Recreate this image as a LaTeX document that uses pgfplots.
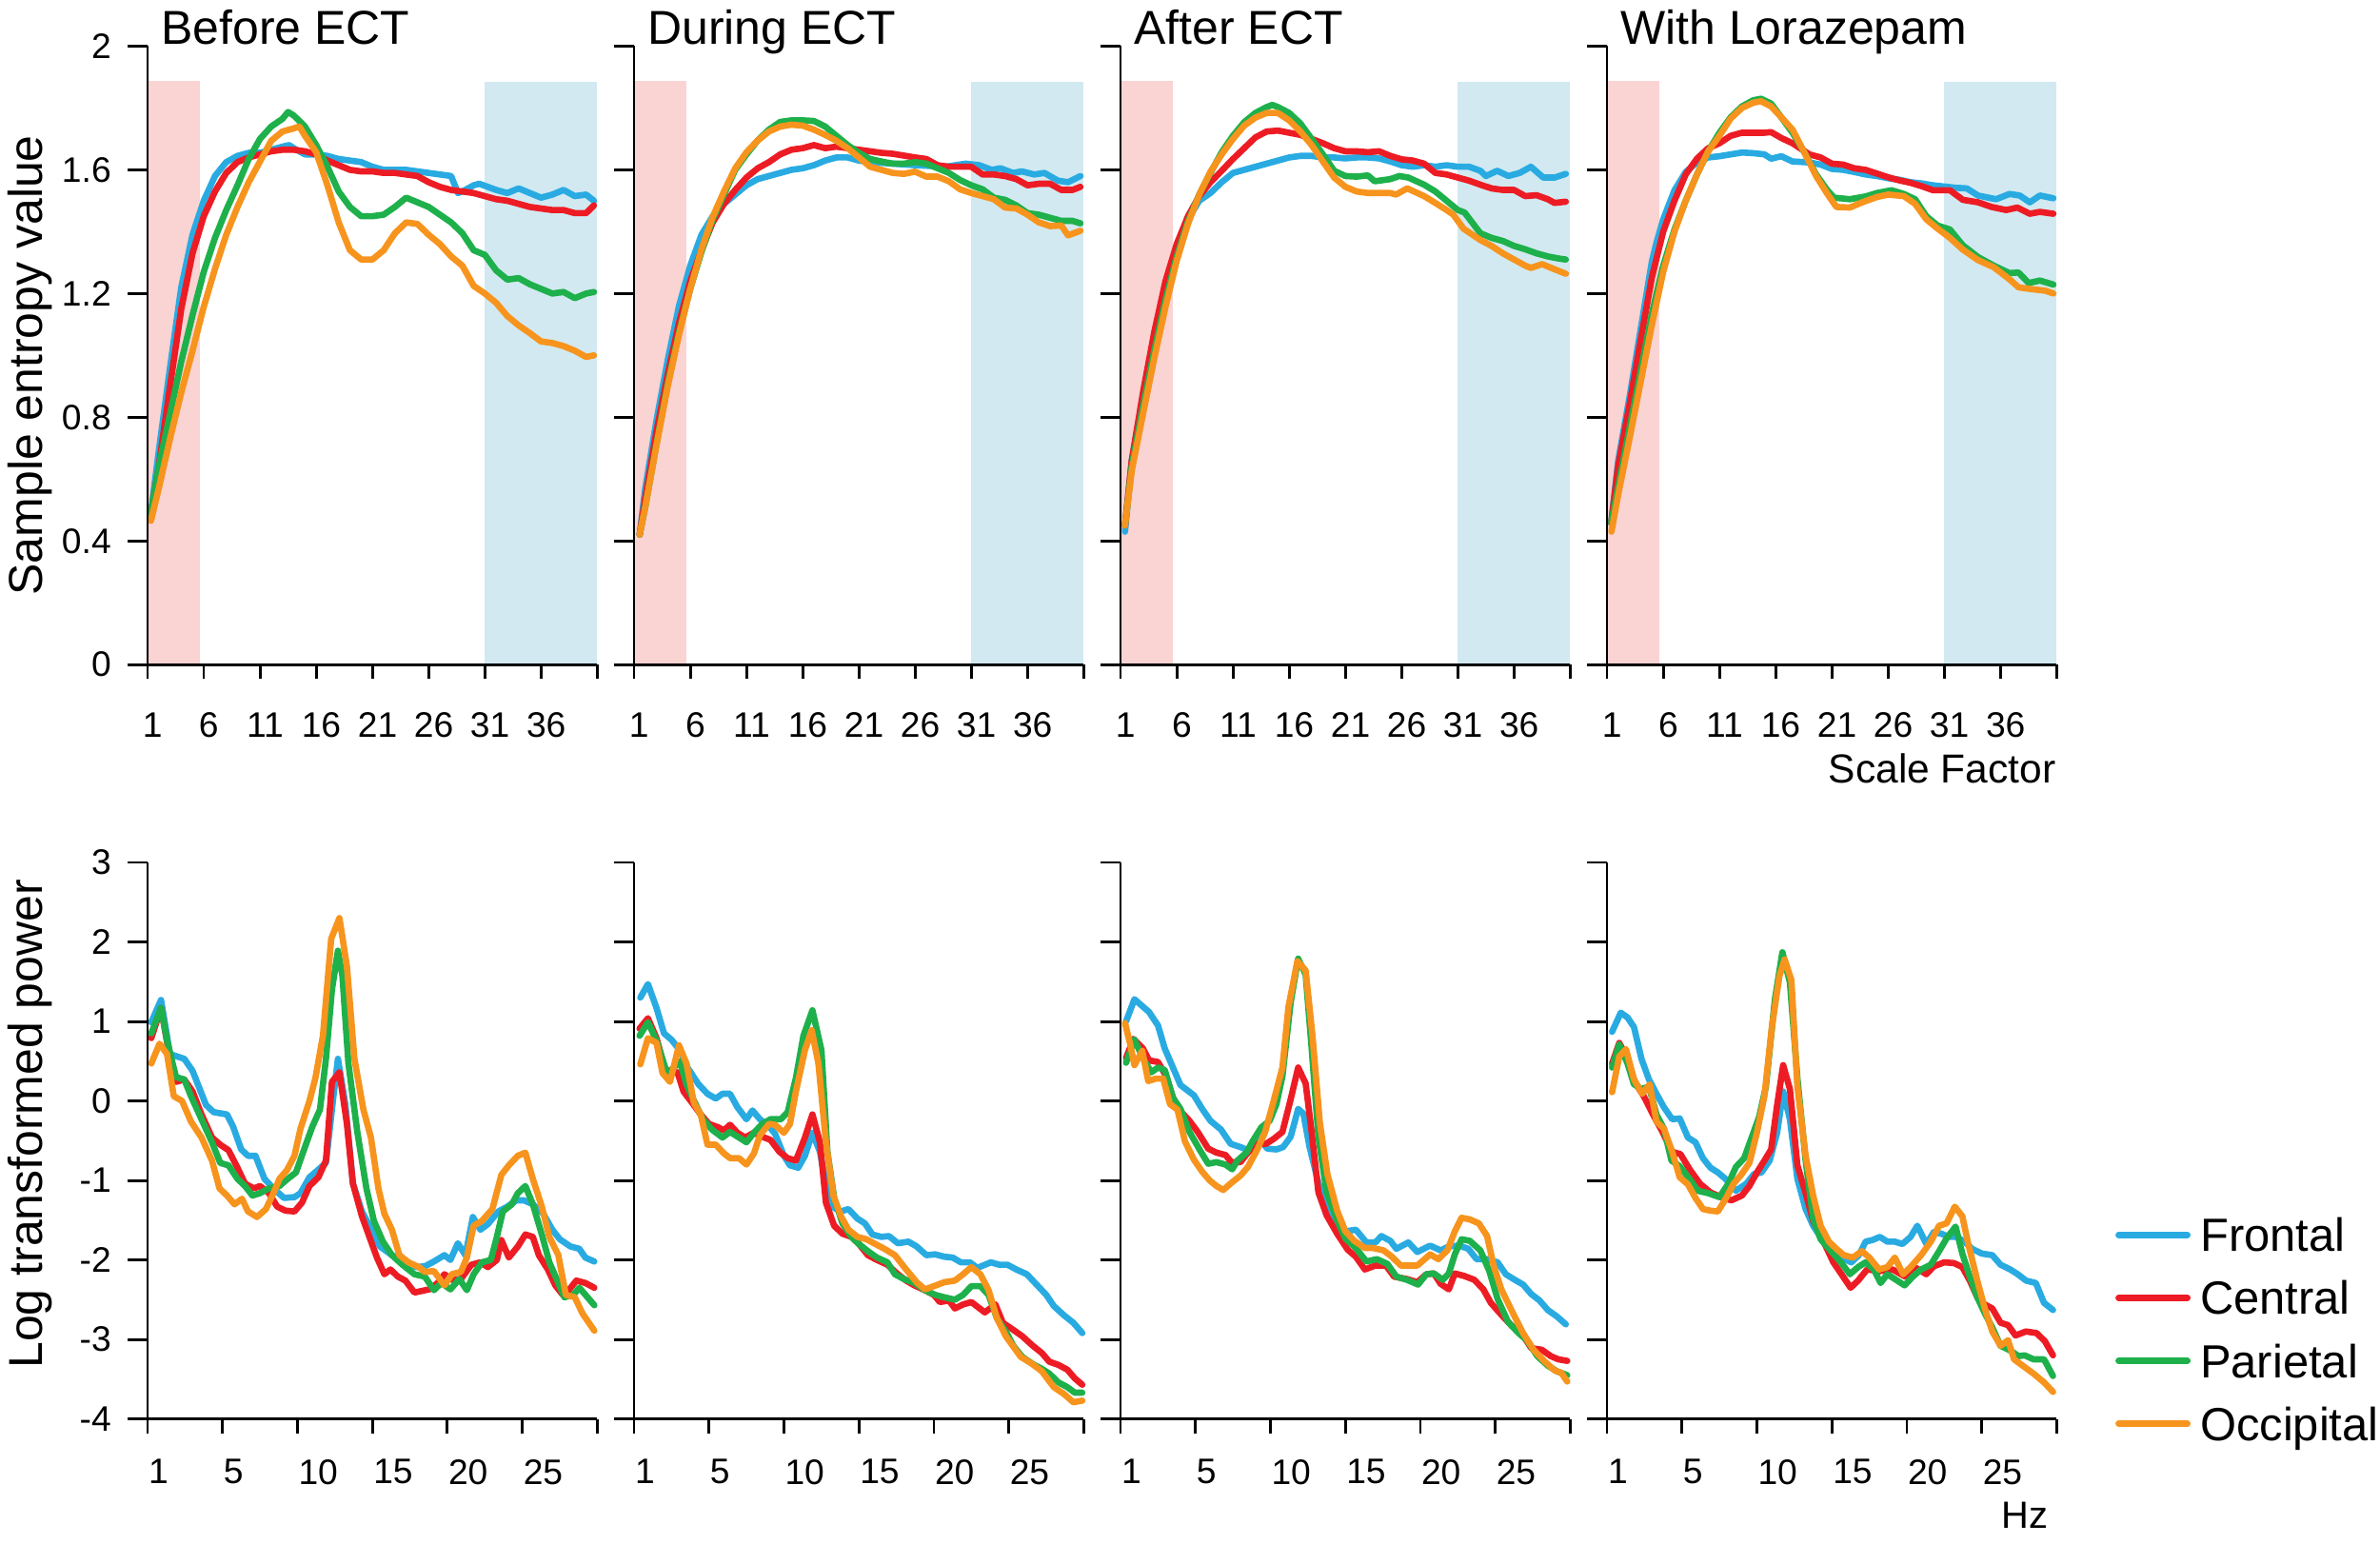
\documentclass[border=0pt]{standalone}
\usepackage{fontspec}
\setmainfont{Liberation Sans}
\usepackage{pgfplots}
\pgfplotsset{compat=1.18}

\definecolor{cF}{RGB}{41,171,226}
\definecolor{cC}{RGB}{237,28,36}
\definecolor{cP}{RGB}{30,176,75}
\definecolor{cO}{RGB}{247,148,29}
\definecolor{bandR}{RGB}{250,211,211}
\definecolor{bandB}{RGB}{210,233,241}

\pgfplotsset{
  eegbase/.style={scale only axis, width=88.9pt, clip=false, axis on top,
    axis lines*=left, axis line style={line width=0.55pt,-},
    tick align=outside, tick style={line width=0.55pt, black},
    major tick length=3.9pt,
    xtick style={/pgfplots/major tick length=2.85pt},
    tick label style={font=\fontsize{7}{8.4}\selectfont, inner sep=0pt},
    yticklabel style={anchor=east, xshift=-3.1pt},
    every axis plot/.append style={line width=1.25pt, line join=round, line cap=round}},
  toprow/.style={eegbase, height=122.25pt, xmin=1, xmax=41, ymin=0, ymax=2,
    xtick={1,6,...,41}, xticklabels={1,6,11,16,21,26,31,36,},
    xticklabel style={anchor=north, xshift=1pt, yshift=-5.35pt},
    ytick={0,0.4,0.8,1.2,1.6,2}},
  botrow/.style={eegbase, height=110pt, xmin=0, xmax=30, ymin=-4, ymax=3,
    xtick={0,5,...,30}, xticklabels={1,5,10,15,20,25,},
    xticklabel style={anchor=north west, yshift=-3.95pt},
    ytick={-4,-3,-2,-1,0,1,2,3}},
  nolab/.style={yticklabels={,,,,,,,,,}},
}
\tikzset{
  ttl/.style={anchor=base west, inner sep=0pt, font=\fontsize{9.4}{11}\selectfont, xshift=2.5pt, yshift=0.45pt},
  ylab/.style={xshift=-20.8pt, rotate=90, anchor=base, inner sep=0pt, font=\fontsize{9.4}{11}\selectfont},
}
\newcommand{\bands}{%
  \addplot[draw=none, fill=bandR, forget plot] coordinates {(1,1.887) (5.65,1.887)} \closedcycle;
  \addplot[draw=none, fill=bandB, forget plot] coordinates {(31,1.884) (41,1.884)} \closedcycle;
}

\begin{document}
\begin{tikzpicture}

% ---------------- top row: sample entropy ----------------
\begin{axis}[toprow, at={(0pt,0pt)}, anchor=south west,
  yticklabels={0,0.4,0.8,1.2,1.6,2}]
\bands
\addplot[cF] coordinates {(1.3,0.49) (2,0.69) (3,0.96) (4,1.22) (5,1.39) (6,1.50) (7,1.58) (8,1.625) (9,1.645) (10,1.655) (11,1.655) (12,1.665) (13,1.675) (13.6,1.68) (14,1.67) (15,1.65) (16,1.65) (17,1.645) (18,1.635) (19,1.63) (20,1.625) (21,1.61) (22,1.60) (23,1.60) (24,1.60) (25,1.595) (26,1.59) (27,1.585) (28,1.58) (28.6,1.525) (29,1.53) (30,1.55) (30.5,1.555) (32,1.535) (33,1.525) (34,1.54) (35,1.525) (36,1.51) (37,1.52) (38,1.535) (39,1.515) (40,1.52) (40.7,1.50)};
\addplot[cC] coordinates {(1.3,0.49) (2,0.64) (3,0.90) (4,1.15) (5,1.33) (6,1.45) (7,1.53) (8,1.59) (9,1.625) (10,1.64) (11,1.65) (12,1.66) (13,1.665) (14,1.665) (15,1.66) (16,1.65) (17,1.63) (18,1.615) (19,1.60) (20,1.595) (21,1.595) (22,1.59) (23,1.59) (24,1.585) (25,1.58) (26,1.56) (27,1.545) (28,1.535) (29,1.53) (30,1.525) (31,1.515) (32,1.505) (33,1.50) (34,1.49) (35,1.48) (36,1.475) (37,1.47) (38,1.47) (39,1.46) (40,1.46) (40.7,1.485)};
\addplot[cP] coordinates {(1.3,0.49) (2,0.64) (3,0.81) (4,0.98) (5,1.13) (6,1.27) (7,1.38) (8,1.47) (9,1.55) (10,1.635) (11,1.70) (12,1.74) (13,1.765) (13.5,1.787) (14,1.776) (15,1.74) (16,1.68) (17,1.61) (18,1.53) (19,1.48) (20,1.45) (21,1.45) (22,1.455) (23,1.48) (24,1.51) (25,1.495) (26,1.48) (27,1.455) (28,1.43) (29,1.395) (30,1.34) (31,1.325) (32,1.275) (33,1.245) (34,1.25) (35,1.23) (36,1.215) (37,1.20) (38,1.205) (39,1.185) (40,1.20) (40.7,1.205)};
\addplot[cO] coordinates {(1.3,0.465) (2,0.57) (3,0.73) (4,0.88) (5,1.015) (6,1.157) (7,1.28) (8,1.39) (9,1.48) (10,1.56) (11,1.627) (12,1.694) (13,1.724) (14,1.734) (14.5,1.74) (15,1.71) (16,1.657) (17,1.55) (18,1.43) (19,1.34) (20,1.31) (21,1.31) (22,1.34) (23,1.395) (24,1.43) (25,1.425) (26,1.39) (27,1.36) (28,1.32) (29,1.29) (30,1.225) (31,1.20) (32,1.17) (33,1.127) (34,1.097) (35,1.072) (36,1.045) (37,1.04) (38,1.03) (39,1.015) (40,0.995) (40.7,1.0)};
\node[ttl] at (rel axis cs:0,1) {Before ECT};
\node[ylab] at (rel axis cs:0,0.484) {Sample entropy value};
\end{axis}

\begin{axis}[toprow, nolab, at={(96.15pt,0pt)}, anchor=south west]
\bands
\addplot[cF] coordinates {(1.5,0.42) (2,0.57) (3,0.79) (4,0.985) (5,1.16) (6,1.29) (7,1.39) (8,1.45) (9,1.49) (10,1.52) (11,1.55) (12,1.57) (13,1.58) (14,1.59) (15,1.60) (16,1.605) (17,1.615) (18,1.63) (19,1.64) (20,1.64) (21,1.63) (22,1.625) (24,1.62) (26,1.615) (28.7,1.61) (30.5,1.62) (31.7,1.615) (32.8,1.60) (33.6,1.605) (34.7,1.59) (35.5,1.595) (36.6,1.585) (37.5,1.59) (38.7,1.565) (39.6,1.56) (40.7,1.58)};
\addplot[cC] coordinates {(1.5,0.42) (2,0.54) (3,0.755) (4,0.94) (5,1.105) (6,1.24) (7,1.34) (8,1.43) (9,1.49) (10,1.535) (11,1.575) (12,1.605) (13,1.625) (14,1.65) (15,1.665) (16,1.67) (17,1.68) (18,1.67) (19,1.675) (20,1.67) (21,1.665) (22,1.66) (23,1.655) (24,1.652) (25,1.646) (26,1.64) (27,1.635) (28,1.615) (29,1.61) (30,1.61) (31,1.61) (32,1.585) (33,1.585) (34,1.58) (35,1.57) (36,1.55) (37,1.555) (38,1.555) (39,1.535) (40,1.535) (40.7,1.545)};
\addplot[cP] coordinates {(1.5,0.42) (2,0.51) (3,0.715) (4,0.91) (5,1.075) (6,1.215) (7,1.335) (8,1.44) (9,1.52) (10,1.60) (11,1.65) (12,1.695) (13,1.73) (14,1.755) (15,1.76) (16,1.76) (17,1.758) (18,1.74) (19,1.71) (20,1.68) (21,1.655) (22,1.635) (23,1.627) (24,1.62) (25,1.62) (26,1.625) (27,1.62) (28,1.605) (29,1.59) (30,1.567) (31,1.55) (32,1.537) (33,1.51) (34,1.503) (35,1.485) (36,1.46) (37,1.455) (38,1.445) (39,1.435) (40,1.435) (40.7,1.427)};
\addplot[cO] coordinates {(1.5,0.42) (2,0.51) (3,0.71) (4,0.90) (5,1.067) (6,1.215) (7,1.343) (8,1.448) (9,1.53) (10,1.605) (11,1.657) (12,1.695) (13,1.724) (14,1.74) (15,1.746) (16,1.743) (17,1.73) (18,1.713) (19,1.694) (20,1.67) (21,1.64) (22,1.61) (23,1.60) (24,1.59) (25,1.587) (26,1.594) (27,1.578) (28,1.578) (29,1.563) (30,1.537) (31,1.525) (32,1.515) (33,1.505) (34,1.478) (35,1.475) (36,1.455) (37,1.43) (38,1.418) (39,1.42) (39.6,1.388) (40.7,1.403)};
\node[ttl] at (rel axis cs:0,1) {During ECT};
\end{axis}

\begin{axis}[toprow, nolab, at={(192.3pt,0pt)}, anchor=south west]
\bands
\addplot[cF] coordinates {(1.4,0.43) (2,0.66) (3,0.865) (4,1.06) (5,1.216) (6,1.343) (7,1.44) (8,1.50) (9,1.525) (10,1.56) (11,1.59) (12,1.60) (13,1.61) (14,1.62) (15,1.63) (16,1.64) (17,1.645) (18,1.645) (19,1.64) (20,1.64) (21,1.637) (22,1.64) (23,1.64) (24,1.637) (25,1.627) (26,1.615) (27,1.61) (28,1.615) (29,1.61) (30,1.615) (31,1.61) (32,1.61) (33,1.597) (33.5,1.58) (34.5,1.597) (35.5,1.58) (36.5,1.59) (37.5,1.61) (38.6,1.575) (39.6,1.575) (40.6,1.587)};
\addplot[cC] coordinates {(1.4,0.45) (2,0.66) (3,0.88) (4,1.075) (5,1.24) (6,1.36) (7,1.45) (8,1.515) (9,1.56) (10,1.597) (11,1.635) (12,1.67) (13,1.705) (14,1.724) (15,1.727) (16,1.72) (17,1.713) (18,1.70) (19,1.686) (20,1.67) (21,1.66) (22,1.66) (23,1.657) (24,1.66) (25,1.645) (26,1.634) (27,1.63) (28,1.62) (29,1.59) (30,1.585) (31,1.575) (32,1.565) (33,1.552) (34,1.54) (35,1.535) (36,1.535) (37,1.515) (38,1.518) (39,1.505) (39.6,1.493) (40.6,1.497)};
\addplot[cP] coordinates {(1.4,0.45) (2,0.642) (3,0.836) (4,1.015) (5,1.18) (6,1.32) (7,1.433) (8,1.52) (9,1.59) (10,1.657) (11,1.71) (12,1.754) (13,1.784) (14,1.803) (14.5,1.81) (15,1.803) (16,1.784) (17,1.75) (18,1.70) (19,1.65) (20,1.597) (21,1.58) (22,1.578) (23,1.582) (23.6,1.563) (25,1.57) (25.8,1.58) (26.6,1.575) (28,1.552) (29,1.53) (30,1.50) (31,1.47) (31.6,1.462) (33,1.395) (34,1.38) (35,1.37) (36,1.354) (37,1.343) (38,1.33) (39,1.32) (40,1.313) (40.6,1.31)};
\addplot[cO] coordinates {(1.4,0.45) (2,0.627) (3,0.81) (4,0.99) (5,1.157) (6,1.306) (7,1.425) (8,1.52) (9,1.594) (10,1.65) (11,1.70) (12,1.743) (13,1.769) (14,1.784) (15,1.784) (16,1.76) (17,1.724) (18,1.68) (19,1.627) (20,1.575) (21,1.545) (22,1.53) (23,1.525) (24,1.525) (25,1.525) (25.5,1.52) (26.5,1.54) (28,1.515) (29,1.493) (30,1.47) (30.6,1.455) (31.5,1.41) (33,1.373) (34,1.354) (35,1.33) (36,1.31) (37,1.29) (37.5,1.283) (38.5,1.295) (39.5,1.28) (40.6,1.264)};
\node[ttl] at (rel axis cs:0,1) {After ECT};
\end{axis}

\begin{axis}[toprow, nolab, at={(288.45pt,0pt)}, anchor=south west]
\bands
\addplot[cF] coordinates {(1.37,0.458) (2,0.66) (3,0.864) (4,1.085) (5,1.305) (5.4,1.364) (6,1.44) (7,1.534) (8,1.593) (9,1.624) (10,1.64) (11,1.644) (12,1.65) (13,1.656) (14,1.654) (15,1.65) (15.6,1.636) (16.5,1.644) (17.5,1.627) (19,1.624) (20,1.617) (21,1.603) (22,1.60) (23,1.593) (24,1.585) (25,1.58) (26,1.573) (27,1.568) (28,1.56) (29,1.556) (30,1.55) (31,1.546) (32,1.542) (33,1.54) (34,1.517) (35.6,1.505) (36.8,1.522) (37.7,1.517) (38.6,1.495) (39.5,1.517) (40.7,1.508)};
\addplot[cC] coordinates {(1.37,0.458) (2,0.644) (3,0.84) (4,1.05) (5,1.254) (6,1.40) (7,1.50) (8,1.585) (9,1.636) (10,1.67) (11,1.686) (12,1.71) (13,1.72) (14,1.72) (15,1.72) (15.6,1.722) (16.5,1.703) (17.5,1.686) (19,1.65) (20,1.64) (21,1.62) (22,1.617) (23,1.605) (24,1.60) (25,1.588) (26,1.576) (27,1.566) (28,1.558) (29,1.547) (30,1.534) (31.5,1.534) (32.65,1.503) (34,1.495) (35.2,1.48) (36.5,1.47) (37.5,1.478) (38.6,1.458) (39.5,1.464) (40.7,1.458)};
\addplot[cP] coordinates {(1.37,0.458) (2,0.576) (3,0.763) (4,0.95) (5,1.136) (6,1.29) (7,1.407) (8,1.50) (9,1.585) (10,1.66) (11,1.72) (12,1.77) (13,1.805) (14,1.825) (14.7,1.83) (15.6,1.814) (16.5,1.77) (17.5,1.72) (18.5,1.66) (19.6,1.585) (20.6,1.534) (21.2,1.51) (22.6,1.505) (24,1.514) (25,1.525) (26.3,1.534) (27.4,1.522) (28.4,1.505) (29.4,1.45) (30.4,1.42) (31.5,1.407) (32.65,1.356) (34,1.318) (35.4,1.29) (36.8,1.266) (37.6,1.268) (38.5,1.234) (39.5,1.242) (40.7,1.229)};
\addplot[cO] coordinates {(1.4,0.43) (2,0.55) (3,0.73) (4,0.915) (5,1.10) (6,1.27) (7,1.40) (8,1.50) (9,1.585) (10,1.66) (11,1.71) (12,1.766) (13,1.80) (14,1.817) (14.7,1.822) (15.6,1.805) (16.5,1.77) (17.5,1.73) (18.5,1.66) (19.6,1.58) (20.6,1.522) (21.4,1.48) (22.6,1.478) (23.7,1.495) (25,1.512) (26,1.52) (27.4,1.515) (28.4,1.49) (29.4,1.44) (30.4,1.41) (31.5,1.38) (32.65,1.342) (34,1.308) (35.4,1.285) (36.8,1.246) (37.6,1.22) (38.8,1.214) (40,1.209) (40.7,1.20)};
\node[ttl] at (rel axis cs:0,1) {With Lorazepam};
\node[anchor=base east, inner sep=0pt, font=\fontsize{8}{9.6}\selectfont, yshift=-23.4pt] at (rel axis cs:1,0) {Scale Factor};
\end{axis}

% ---------------- bottom row: log power ----------------
\begin{axis}[botrow, at={(0pt,-149.1pt)}, anchor=south west,
  yticklabels={-4,-3,-2,-1,0,1,2,3}]
\addplot[cF] coordinates {(0.25,0.99) (0.9,1.27) (1.5,0.59) (2.45,0.53) (3.0,0.38) (3.9,-0.05) (4.4,-0.14) (5.3,-0.17) (5.7,-0.32) (6.25,-0.61) (6.7,-0.69) (7.2,-0.69) (7.8,-0.98) (8.4,-1.10) (9.1,-1.22) (9.8,-1.21) (10.2,-1.16) (10.8,-0.96) (11.3,-0.88) (11.9,-0.78) (12.4,0.06) (12.7,0.53) (13.2,-0.05) (13.7,-1.04) (14.3,-1.39) (14.8,-1.57) (15.5,-1.83) (16.3,-1.94) (17.1,-2.0) (17.9,-2.09) (18.5,-2.08) (19.1,-2.02) (19.8,-1.94) (20.2,-2.0) (20.7,-1.79) (21.2,-1.94) (21.7,-1.46) (22.2,-1.62) (22.7,-1.55) (23.4,-1.39) (24.0,-1.33) (24.6,-1.25) (25.1,-1.25) (25.7,-1.30) (26.4,-1.42) (27.0,-1.62) (27.5,-1.74) (28.2,-1.83) (28.8,-1.86) (29.2,-1.97) (29.8,-2.02)};
\addplot[cC] coordinates {(0.25,0.79) (0.9,1.17) (1.5,0.53) (1.9,0.24) (2.45,0.27) (3.0,0.12) (3.6,-0.17) (4.3,-0.46) (4.85,-0.55) (5.4,-0.62) (6.0,-0.84) (6.5,-1.04) (7.1,-1.10) (7.5,-1.07) (8.1,-1.16) (8.65,-1.33) (9.2,-1.38) (9.8,-1.39) (10.3,-1.28) (10.8,-1.07) (11.4,-0.96) (11.9,-0.75) (12.3,0.24) (12.8,0.36) (13.3,-0.29) (13.7,-1.04) (14.3,-1.45) (14.8,-1.71) (15.3,-1.97) (15.8,-2.18) (16.2,-2.12) (16.7,-2.21) (17.2,-2.26) (17.8,-2.41) (18.8,-2.37) (19.35,-2.29) (19.8,-2.18) (20.3,-2.25) (20.9,-2.24) (21.6,-2.06) (22.2,-2.03) (22.7,-2.09) (23.3,-2.0) (23.6,-1.75) (24.1,-1.97) (24.7,-1.83) (25.2,-1.68) (25.7,-1.71) (26.1,-1.94) (26.7,-2.12) (27.2,-2.32) (27.7,-2.44) (28.1,-2.38) (28.6,-2.26) (29.2,-2.29) (29.8,-2.35)};
\addplot[cP] coordinates {(0.25,0.85) (0.9,1.17) (1.3,0.76) (1.9,0.30) (2.45,0.27) (2.9,0.06) (3.6,-0.23) (4.3,-0.52) (4.85,-0.78) (5.4,-0.81) (6.0,-0.98) (6.5,-1.07) (7.0,-1.19) (7.5,-1.16) (8.1,-1.10) (8.8,-1.07) (9.35,-0.98) (9.9,-0.90) (10.5,-0.58) (11.0,-0.32) (11.5,-0.11) (11.9,0.53) (12.3,1.40) (12.7,1.89) (13.0,1.57) (13.4,0.47) (14.0,-0.40) (14.6,-1.10) (15.1,-1.51) (15.7,-1.77) (16.3,-1.94) (17.0,-2.06) (17.8,-2.18) (18.5,-2.21) (19.1,-2.38) (19.6,-2.29) (20.2,-2.37) (20.8,-2.24) (21.3,-2.38) (21.75,-2.18) (22.3,-2.03) (22.9,-2.0) (23.3,-1.71) (23.7,-1.39) (24.3,-1.30) (24.7,-1.16) (25.2,-1.07) (25.7,-1.30) (26.3,-1.68) (26.8,-2.03) (27.4,-2.29) (27.8,-2.47) (28.4,-2.44) (28.8,-2.35) (29.35,-2.47) (29.8,-2.57)};
\addplot[cO] coordinates {(0.25,0.47) (0.8,0.72) (1.3,0.59) (1.75,0.06) (2.3,0.0) (2.9,-0.26) (3.6,-0.46) (4.3,-0.75) (4.8,-1.10) (5.3,-1.19) (5.8,-1.30) (6.3,-1.23) (6.7,-1.39) (7.3,-1.46) (7.9,-1.36) (8.4,-1.16) (8.8,-0.98) (9.3,-0.87) (9.8,-0.69) (10.2,-0.35) (10.8,0.0) (11.2,0.29) (11.7,0.82) (12.25,2.04) (12.8,2.30) (13.3,1.69) (13.8,0.53) (14.4,-0.11) (14.9,-0.46) (15.4,-1.10) (15.8,-1.42) (16.3,-1.62) (16.8,-1.94) (17.4,-2.03) (18.1,-2.09) (18.5,-2.15) (19.1,-2.14) (19.8,-2.32) (20.3,-2.18) (20.9,-2.15) (21.3,-1.97) (21.75,-1.57) (22.3,-1.51) (23.0,-1.36) (23.6,-0.93) (24.1,-0.81) (24.7,-0.69) (25.2,-0.65) (25.7,-0.98) (26.3,-1.33) (26.8,-1.71) (27.4,-1.94) (27.9,-2.44) (28.5,-2.47) (29.0,-2.67) (29.8,-2.89)};
\node[ylab] at (rel axis cs:0,0.53) {Log transformed power};
\end{axis}

\begin{axis}[botrow, nolab, at={(96.15pt,-149.1pt)}, anchor=south west]
\addplot[cF] coordinates {(0.42,1.30) (0.93,1.47) (1.5,1.17) (2.0,0.85) (2.5,0.77) (3.05,0.64) (3.6,0.41) (4.3,0.21) (4.9,0.09) (5.45,0.03) (5.9,0.09) (6.4,0.09) (6.9,-0.08) (7.5,-0.23) (7.9,-0.12) (8.4,-0.23) (9.0,-0.32) (9.4,-0.41) (10.0,-0.69) (10.4,-0.81) (10.95,-0.84) (11.4,-0.69) (11.9,-0.40) (12.4,-0.64) (12.8,-1.04) (13.2,-1.33) (13.8,-1.39) (14.3,-1.36) (14.9,-1.48) (15.4,-1.54) (15.9,-1.68) (16.5,-1.71) (17.0,-1.70) (17.6,-1.79) (18.3,-1.77) (18.85,-1.83) (19.5,-1.94) (20.1,-1.93) (20.7,-1.96) (21.25,-1.97) (21.8,-2.03) (22.4,-2.03) (22.9,-2.10) (23.8,-2.03) (24.35,-2.06) (24.9,-2.06) (25.5,-2.12) (26.2,-2.18) (26.9,-2.32) (27.5,-2.44) (28.0,-2.58) (28.7,-2.70) (29.3,-2.79) (29.9,-2.92)};
\addplot[cC] coordinates {(0.37,0.91) (0.93,1.04) (1.5,0.79) (2.05,0.41) (2.5,0.35) (2.9,0.36) (3.3,0.12) (3.9,-0.03) (4.45,-0.17) (5.0,-0.29) (5.6,-0.33) (6.0,-0.37) (6.4,-0.30) (6.9,-0.40) (7.4,-0.46) (8.0,-0.40) (8.55,-0.45) (9.1,-0.49) (9.7,-0.64) (10.25,-0.72) (10.8,-0.75) (11.4,-0.46) (11.9,-0.17) (12.4,-0.52) (12.8,-1.28) (13.35,-1.57) (13.9,-1.67) (14.5,-1.71) (15.0,-1.80) (15.6,-1.94) (16.2,-2.0) (16.9,-2.06) (17.6,-2.18) (18.15,-2.26) (18.7,-2.32) (19.4,-2.38) (20.0,-2.44) (20.4,-2.53) (21.0,-2.51) (21.4,-2.61) (21.95,-2.56) (22.5,-2.53) (23.4,-2.66) (24.1,-2.56) (24.6,-2.79) (25.3,-2.88) (25.9,-2.96) (26.6,-3.08) (27.2,-3.17) (27.7,-3.28) (28.3,-3.32) (28.9,-3.38) (29.4,-3.49) (29.9,-3.57)};
\addplot[cP] coordinates {(0.37,0.82) (0.93,0.99) (1.5,0.76) (2.2,0.35) (2.6,0.41) (3.05,0.50) (3.5,0.21) (4.0,0.0) (4.6,-0.23) (5.2,-0.36) (5.9,-0.46) (6.4,-0.39) (7.0,-0.46) (7.5,-0.52) (8.0,-0.40) (8.55,-0.29) (9.1,-0.23) (9.8,-0.23) (10.25,-0.14) (10.8,0.29) (11.3,0.82) (11.9,1.14) (12.5,0.64) (12.9,-0.64) (13.35,-1.22) (13.9,-1.54) (14.5,-1.71) (15.0,-1.80) (15.6,-1.89) (16.2,-1.97) (16.9,-2.03) (17.4,-2.18) (18.0,-2.24) (18.7,-2.29) (19.4,-2.38) (20.1,-2.44) (20.7,-2.47) (21.4,-2.50) (21.95,-2.44) (22.5,-2.33) (23.1,-2.33) (23.65,-2.44) (24.2,-2.73) (24.8,-2.90) (25.3,-3.08) (25.9,-3.22) (26.6,-3.31) (27.2,-3.37) (27.7,-3.43) (28.3,-3.54) (28.9,-3.60) (29.4,-3.67) (29.9,-3.67)};
\addplot[cO] coordinates {(0.42,0.46) (0.93,0.79) (1.5,0.73) (1.9,0.35) (2.4,0.24) (3.0,0.70) (3.5,0.47) (4.0,-0.03) (4.45,-0.17) (4.9,-0.55) (5.45,-0.55) (6.0,-0.66) (6.4,-0.72) (7.0,-0.72) (7.5,-0.80) (8.0,-0.66) (8.4,-0.43) (9.0,-0.29) (9.4,-0.30) (10.0,-0.40) (10.4,-0.29) (10.8,0.12) (11.4,0.64) (11.85,0.89) (12.3,0.47) (12.8,-0.52) (13.3,-1.19) (13.8,-1.45) (14.3,-1.62) (14.9,-1.71) (15.5,-1.74) (16.0,-1.79) (16.7,-1.86) (17.4,-1.94) (18.15,-2.12) (18.85,-2.28) (19.4,-2.37) (20.0,-2.33) (20.7,-2.28) (21.4,-2.26) (21.95,-2.18) (22.5,-2.09) (23.1,-2.18) (23.65,-2.38) (24.2,-2.73) (24.8,-2.96) (25.8,-3.22) (26.5,-3.30) (27.2,-3.40) (28.0,-3.60) (28.7,-3.69) (29.3,-3.79) (29.9,-3.77)};
\end{axis}

\begin{axis}[botrow, nolab, at={(192.3pt,-149.1pt)}, anchor=south west]
\addplot[cF] coordinates {(0.37,1.0) (0.93,1.28) (1.35,1.21) (1.9,1.12) (2.5,0.95) (2.95,0.66) (3.5,0.42) (4.0,0.20) (4.9,0.07) (5.45,-0.10) (6.0,-0.25) (6.7,-0.36) (7.35,-0.54) (8.0,-0.58) (8.5,-0.62) (9.25,-0.48) (9.8,-0.60) (10.4,-0.61) (10.85,-0.58) (11.35,-0.45) (11.85,-0.10) (12.2,-0.16) (12.6,-0.57) (13.2,-1.03) (13.75,-1.29) (14.3,-1.50) (15.0,-1.64) (15.7,-1.62) (16.4,-1.78) (17.0,-1.78) (17.4,-1.70) (18.0,-1.76) (18.4,-1.86) (19.2,-1.78) (19.8,-1.90) (20.65,-1.82) (21.35,-1.88) (21.9,-1.83) (22.6,-1.82) (23.2,-1.86) (23.75,-1.99) (24.45,-1.99) (25.15,-2.03) (25.7,-2.18) (26.3,-2.25) (26.85,-2.31) (27.4,-2.43) (27.95,-2.51) (28.5,-2.63) (29.1,-2.71) (29.7,-2.81)};
\addplot[cC] coordinates {(0.37,0.54) (0.87,0.78) (1.5,0.66) (1.9,0.51) (2.5,0.49) (3.05,0.31) (3.5,0.04) (4.0,-0.13) (4.6,-0.25) (5.15,-0.39) (5.85,-0.60) (6.4,-0.65) (7.0,-0.68) (7.4,-0.77) (8.0,-0.77) (8.5,-0.65) (9.1,-0.54) (9.7,-0.54) (10.2,-0.48) (10.8,-0.39) (11.35,0.02) (11.85,0.42) (12.35,0.22) (12.75,-0.39) (13.2,-1.15) (13.75,-1.44) (14.45,-1.67) (15.15,-1.87) (15.7,-1.96) (16.3,-2.12) (17.0,-2.07) (17.7,-2.07) (18.25,-2.21) (19.1,-2.24) (19.8,-2.28) (20.4,-2.18) (20.9,-2.17) (21.35,-2.30) (21.9,-2.37) (22.3,-2.17) (22.9,-2.20) (23.6,-2.25) (24.2,-2.37) (24.7,-2.54) (25.4,-2.69) (26.1,-2.83) (26.85,-2.95) (27.4,-3.11) (28.1,-3.13) (28.7,-3.21) (29.2,-3.25) (29.8,-3.27)};
\addplot[cP] coordinates {(0.37,0.48) (0.93,0.77) (1.5,0.54) (2.05,0.36) (2.5,0.42) (2.95,0.39) (3.5,0.04) (4.0,-0.10) (4.6,-0.39) (5.3,-0.62) (5.85,-0.79) (6.4,-0.77) (7.0,-0.80) (7.45,-0.86) (7.8,-0.75) (8.4,-0.65) (8.8,-0.51) (9.4,-0.33) (9.95,-0.25) (10.4,-0.04) (10.8,0.31) (11.35,1.24) (11.85,1.79) (12.35,1.59) (12.75,0.66) (13.2,-0.45) (13.75,-1.15) (14.45,-1.50) (15.0,-1.73) (15.7,-1.85) (16.4,-2.02) (17.1,-1.99) (17.8,-2.05) (18.4,-2.21) (19.1,-2.25) (19.85,-2.31) (20.4,-2.18) (20.9,-2.17) (21.5,-2.25) (21.9,-2.17) (22.3,-1.93) (22.75,-1.74) (23.3,-1.76) (24.0,-1.88) (24.6,-2.14) (25.15,-2.49) (25.85,-2.78) (26.55,-2.92) (27.1,-3.01) (27.8,-3.21) (28.5,-3.33) (29.1,-3.40) (29.8,-3.45)};
\addplot[cO] coordinates {(0.3,0.98) (0.65,0.71) (0.93,0.45) (1.45,0.63) (1.85,0.25) (2.35,0.28) (2.85,0.28) (3.3,-0.04) (3.8,-0.11) (4.3,-0.51) (4.9,-0.74) (5.45,-0.89) (5.95,-1.0) (6.4,-1.07) (6.85,-1.12) (7.4,-1.03) (8.0,-0.94) (8.5,-0.83) (9.1,-0.62) (9.65,-0.39) (10.2,-0.01) (10.8,0.42) (11.2,1.18) (11.8,1.76) (12.35,1.64) (12.8,0.83) (13.3,-0.28) (13.8,-0.92) (14.45,-1.38) (15.0,-1.64) (15.6,-1.76) (16.3,-1.85) (16.85,-1.85) (17.55,-1.88) (18.1,-1.96) (18.7,-2.07) (19.8,-2.07) (20.65,-1.93) (21.2,-1.99) (21.8,-1.88) (22.3,-1.64) (22.75,-1.47) (23.3,-1.49) (23.9,-1.54) (24.45,-1.70) (24.9,-2.08) (25.4,-2.37) (26.15,-2.66) (26.85,-2.92) (27.55,-3.13) (28.25,-3.27) (28.95,-3.39) (29.4,-3.42) (29.8,-3.53)};
\end{axis}

\begin{axis}[botrow, nolab, at={(288.45pt,-149.1pt)}, anchor=south west,
  legend style={draw=none, fill=none, at={(rel axis cs:1,1)}, anchor=north west,
    xshift=11.6pt, yshift=-67.9pt, font=\fontsize{9.2}{11}\selectfont,
    inner sep=0pt, outer sep=0pt, row sep=0pt, column sep=1.9pt,
    cells={anchor=base west},
    nodes={inner sep=0pt, text height=9pt, text depth=3.45pt}},
  legend image code/.code={\draw[#1, line width=1.25pt, line cap=round] (0pt,3.3pt) -- (13.6pt,3.3pt);}]
\addplot[cF] coordinates {(0.34,0.87) (0.92,1.11) (1.37,1.05) (1.8,0.93) (2.3,0.53) (2.8,0.27) (3.3,0.09) (3.8,-0.08) (4.35,-0.23) (4.85,-0.22) (5.4,-0.46) (5.9,-0.52) (6.4,-0.72) (6.9,-0.84) (7.4,-0.90) (7.9,-0.98) (8.6,-1.13) (9.3,-1.04) (9.8,-0.92) (10.3,-0.90) (10.85,-0.75) (11.35,-0.40) (11.75,0.12) (12.2,-0.23) (12.7,-0.98) (13.25,-1.36) (13.75,-1.57) (14.25,-1.71) (14.95,-1.86) (15.6,-1.97) (16.3,-2.03) (16.8,-1.94) (17.25,-1.77) (17.7,-1.75) (18.2,-1.71) (18.7,-1.77) (19.2,-1.77) (19.7,-1.80) (20.25,-1.71) (20.7,-1.57) (21.3,-1.80) (21.8,-1.65) (22.3,-1.67) (22.8,-1.71) (23.3,-1.71) (23.85,-1.77) (24.35,-1.86) (25.0,-1.92) (25.7,-1.94) (26.25,-2.06) (26.9,-2.12) (27.4,-2.18) (27.95,-2.26) (28.6,-2.29) (29.15,-2.54) (29.75,-2.63)};
\addplot[cC] coordinates {(0.34,0.47) (0.82,0.73) (1.37,0.53) (1.85,0.24) (2.45,0.06) (3.15,-0.20) (3.65,-0.37) (4.35,-0.64) (4.9,-0.67) (5.55,-0.87) (6.2,-1.04) (6.9,-1.15) (7.6,-1.21) (8.3,-1.25) (9.0,-1.19) (9.5,-1.07) (10.0,-0.90) (10.5,-0.75) (10.95,-0.61) (11.35,-0.05) (11.75,0.45) (12.2,0.15) (12.7,-0.81) (13.25,-1.16) (13.75,-1.51) (14.45,-1.77) (15.1,-2.03) (15.75,-2.21) (16.25,-2.35) (16.75,-2.26) (17.35,-2.12) (18.2,-2.14) (19.05,-2.12) (19.9,-2.21) (20.6,-2.10) (21.3,-2.18) (21.8,-2.08) (22.5,-2.03) (23.15,-2.04) (23.7,-2.09) (24.2,-2.26) (24.7,-2.47) (25.2,-2.56) (25.7,-2.61) (26.25,-2.79) (26.75,-2.82) (27.25,-2.95) (27.95,-2.90) (28.65,-2.92) (29.2,-3.02) (29.75,-3.20)};
\addplot[cP] coordinates {(0.34,0.42) (0.82,0.71) (1.37,0.47) (1.8,0.21) (2.3,0.15) (2.8,0.18) (3.3,-0.17) (3.8,-0.35) (4.3,-0.75) (4.85,-0.82) (5.5,-0.98) (6.05,-1.13) (6.75,-1.16) (7.5,-1.21) (8.1,-1.04) (8.6,-0.83) (9.15,-0.72) (9.65,-0.46) (10.15,-0.20) (10.6,0.18) (11.2,1.28) (11.7,1.87) (12.2,1.49) (12.7,0.29) (13.25,-0.75) (13.75,-1.48) (14.25,-1.74) (14.95,-1.89) (15.6,-2.03) (16.2,-2.18) (16.75,-2.09) (17.25,-2.03) (17.8,-2.12) (18.25,-2.29) (18.7,-2.18) (19.2,-2.24) (19.85,-2.32) (20.4,-2.21) (20.95,-2.12) (21.6,-2.06) (22.15,-1.89) (22.65,-1.73) (23.25,-1.58) (23.7,-1.92) (24.2,-2.21) (24.7,-2.47) (25.2,-2.67) (25.7,-2.85) (26.25,-3.08) (26.9,-3.14) (27.45,-3.21) (27.85,-3.20) (28.45,-3.25) (29.15,-3.25) (29.75,-3.46)};
\addplot[cO] coordinates {(0.34,0.11) (0.82,0.56) (1.27,0.65) (1.8,0.27) (2.35,0.09) (2.85,0.21) (3.3,-0.26) (3.8,-0.35) (4.35,-0.64) (4.85,-0.96) (5.4,-1.05) (5.9,-1.22) (6.4,-1.36) (6.9,-1.38) (7.4,-1.39) (7.95,-1.22) (8.45,-1.04) (8.95,-0.93) (9.5,-0.78) (10.0,-0.40) (10.5,0.06) (11.0,0.93) (11.5,1.57) (11.85,1.78) (12.3,1.52) (12.7,0.18) (13.25,-0.69) (13.75,-1.19) (14.25,-1.57) (14.8,-1.77) (15.3,-1.86) (15.8,-1.94) (16.4,-1.97) (17.0,-1.89) (17.5,-1.97) (18.15,-2.12) (18.7,-2.09) (19.2,-1.97) (19.75,-2.18) (20.25,-2.09) (20.95,-1.94) (21.6,-1.77) (22.15,-1.57) (22.65,-1.54) (23.2,-1.33) (23.7,-1.45) (24.1,-1.80) (24.7,-2.26) (25.2,-2.61) (25.7,-2.90) (26.25,-3.08) (26.75,-3.01) (27.15,-3.25) (27.8,-3.34) (28.45,-3.43) (29.15,-3.54) (29.75,-3.66)};
\legend{Frontal,Central,Parietal,Occipital}
\node[anchor=base east, inner sep=0pt, font=\fontsize{7.5}{9}\selectfont, xshift=-1.5pt, yshift=-21.7pt] at (rel axis cs:1,0) {Hz};
\end{axis}

\pgfresetboundingbox
\path[use as bounding box] (-29.16pt,-173.73pt) rectangle (441.24pt,131.37pt);
\end{tikzpicture}
\end{document}
